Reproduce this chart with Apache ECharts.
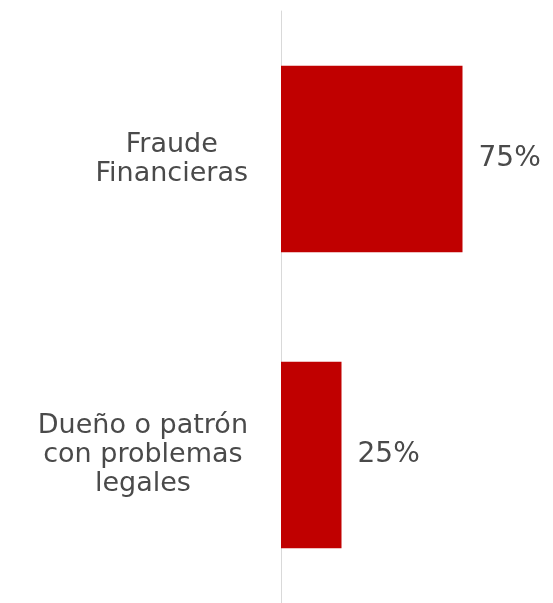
<!DOCTYPE html>
<html>
<head>
<meta charset="utf-8">
<script src="https://cdn.jsdelivr.net/npm/echarts@6/dist/echarts.min.js"></script>
<style>
html,body{margin:0;padding:0;background:#fff;}
#chart{width:553px;height:603px;}
</style>
</head>
<body>
<div id="chart"></div>
<script>
var categories = ["Fraude\nFinancieras", "Dueño o patrón\ncon problemas\nlegales"];
var values = [75, 25];
var valueSuffix = "%";

var FONT = "'DejaVu Sans', sans-serif";
var chart = echarts.init(document.getElementById('chart'), null, {renderer: 'canvas'});
chart.setOption({
  animation: false,
  backgroundColor: '#ffffff',
  grid: {left: 281, width: 242, top: 11, height: 592, containLabel: false},
  xAxis: {
    type: 'value', min: 0, max: 100,
    show: false
  },
  yAxis: {
    type: 'category',
    data: categories,
    inverse: true,
    axisLine: {show: true, lineStyle: {color: '#d9d9d9', width: 1}},
    axisTick: {show: false},
    splitLine: {show: false},
    axisLabel: {
      margin: 33,
      formatter: function (v) {
        return v.split('\n').map(function (l) { return '{c|' + l + '}'; }).join('\n');
      },
      rich: {
        c: {align: 'center', fontSize: 27, lineHeight: 29, fontFamily: FONT, color: '#4a4a4a'}
      }
    }
  },
  series: [{
    type: 'bar',
    data: values,
    barCategoryGap: '37%',
    itemStyle: {color: '#c00000'},
    label: {
      show: true,
      position: 'right',
      distance: 16,
      formatter: function (p) { return p.value + valueSuffix; },
      fontSize: 28,
      fontFamily: FONT,
      color: '#4a4a4a'
    }
  }]
});
</script>
</body>
</html>
